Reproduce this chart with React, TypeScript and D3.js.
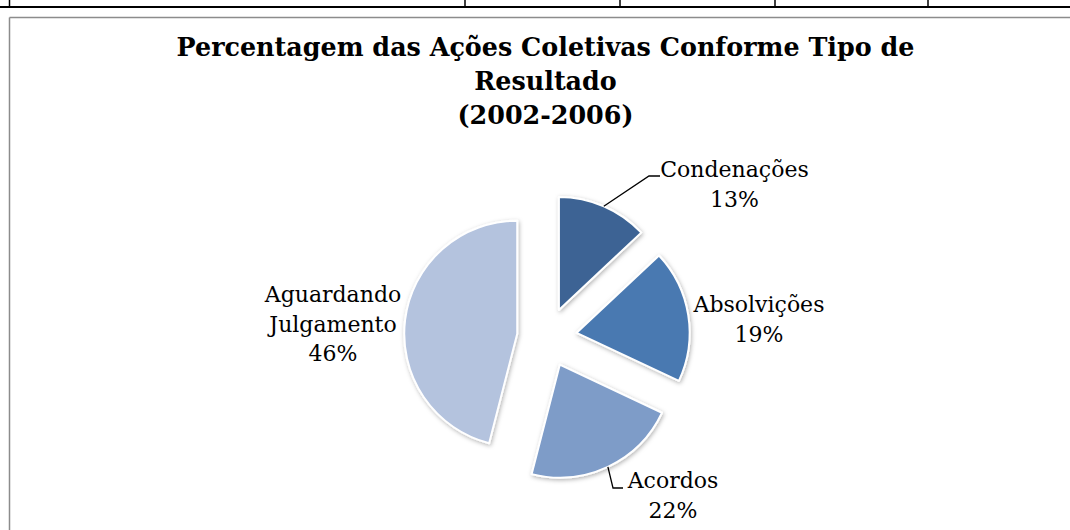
import React from "react";
import * as d3 from "d3";

const categories = ["Condenações", "Absolvições", "Acordos", "Aguardando Julgamento"];
const values = [13, 19, 22, 46];
const labelLines = [["Condenações"], ["Absolvições"], ["Acordos"], ["Aguardando", "Julgamento"]];
const percentLabels = ["13%", "19%", "22%", "46%"];
const colors = ["#3C6494", "#4A79B1", "#7E9CC8", "#B4C3DE"];
const titleLines = ["Percentagem das Ações Coletivas Conforme Tipo de", "Resultado", "(2002-2006)"];
const tableColumnX = [465, 620, 775, 928];

const W = 1070;
const H = 530;
const CX = 547;
const CY = 337.5;
const R = 113;
const EXPLODE = 30;
const FONT = "'DejaVu Serif', 'Liberation Serif', serif";

// label anchors (center x, first baseline y) and leader elbow info
const labelPos = [
  { x: 734.5, y: 177, leader: true, elbow: [649, 176], end: [660, 176] },
  { x: 759, y: 312, leader: false },
  { x: 673, y: 488, leader: true, elbow: [613, 488], end: [623, 488] },
  { x: 333, y: 302, leader: false },
];

export default function App() {
  const pie = d3.pie<number>().sort(null).value((d) => d)(values);
  const arc = d3.arc<d3.PieArcDatum<number>>().innerRadius(0).outerRadius(R);
  const lineH = 29.5;

  return (
    <svg
      width={W}
      height={H}
      style={{ position: "absolute", left: 0, top: 0, background: "#fff" }}
      xmlns="http://www.w3.org/2000/svg"
    >
      <defs>
        <filter id="sh" x="-20%" y="-20%" width="140%" height="140%">
          <feDropShadow dx="1" dy="1.5" stdDeviation="2" floodColor="#000" floodOpacity="0.3" />
        </filter>
      </defs>
      <rect x={0} y={0} width={W} height={H} fill="#fff" />
      {/* table fragment at top */}
      <line x1={0} x2={W} y1={7} y2={7} stroke="#000" strokeWidth={2} />
      <line x1={9.5} x2={9.5} y1={0} y2={7} stroke="#000" strokeWidth={1.5} />
      {tableColumnX.map((x, i) => (
        <line key={i} x1={x} x2={x} y1={0} y2={7} stroke="#000" strokeWidth={1.5} />
      ))}
      {/* chart frame */}
      <line x1={9.5} x2={W} y1={17.5} y2={17.5} stroke="#8c8c8c" strokeWidth={1.5} />
      <line x1={9.5} x2={9.5} y1={17.5} y2={H} stroke="#8c8c8c" strokeWidth={1.5} />

      {/* title */}
      <text fontFamily={FONT} fontWeight="bold" fontSize={25.4} textAnchor="middle" fill="#000">
        {titleLines.map((t, i) => (
          <tspan key={i} x={545.5} y={56 + i * 34}>
            {t}
          </tspan>
        ))}
      </text>

      {/* slices */}
      {pie.map((d, i) => {
        const mid = (d.startAngle + d.endAngle) / 2;
        const ox = EXPLODE * Math.sin(mid);
        const oy = -EXPLODE * Math.cos(mid);
        return (
          <g key={categories[i]} transform={`translate(${CX + ox},${CY + oy})`} filter="url(#sh)">
            <path d={arc(d) || ""} fill={colors[i]} stroke="#fff" strokeWidth={2} strokeLinejoin="round" />
          </g>
        );
      })}

      {/* leader lines */}
      {pie.map((d, i) => {
        const lp = labelPos[i];
        if (!lp.leader) return null;
        const mid = (d.startAngle + d.endAngle) / 2;
        const sx = CX + (EXPLODE + R) * Math.sin(mid);
        const sy = CY - (EXPLODE + R) * Math.cos(mid);
        return (
          <polyline
            key={"l" + i}
            points={`${sx},${sy} ${lp.elbow![0]},${lp.elbow![1]} ${lp.end![0]},${lp.end![1]}`}
            fill="none"
            stroke="#000"
            strokeWidth={1.3}
          />
        );
      })}

      {/* labels */}
      {pie.map((d, i) => {
        const lp = labelPos[i];
        const lines = [...labelLines[i], percentLabels[i]];
        return (
          <text key={"t" + i} fontFamily={FONT} fontSize={22} textAnchor="middle" fill="#000">
            {lines.map((t, j) => (
              <tspan key={j} x={lp.x} y={lp.y + j * lineH}>
                {t}
              </tspan>
            ))}
          </text>
        );
      })}
    </svg>
  );
}
